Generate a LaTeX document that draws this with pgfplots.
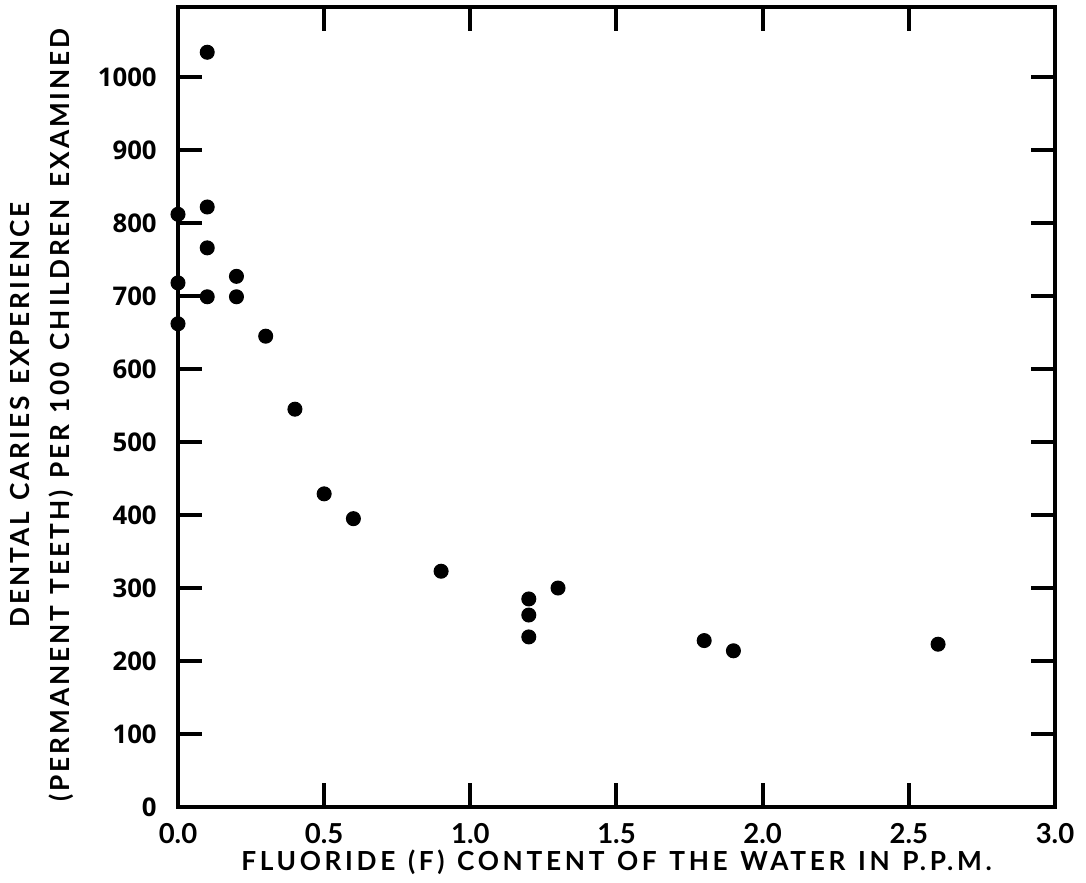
\documentclass[border=0pt]{standalone}
\usepackage{fontspec}
\setmainfont{Lato}
\newfontfamily\tickfont{Open Sans}
\newfontfamily\xlabfont{Lato}[LetterSpace=14,WordSpace=1.25]
\newfontfamily\ylabfont{Lato}[LetterSpace=11,WordSpace=1.25]
\usepackage{pgfplots}
\pgfplotsset{compat=1.18}

\begin{document}
\begin{tikzpicture}
\begin{axis}[
  width=350.8pt, height=320pt, scale only axis,
  xmin=0, xmax=3, ymin=0, ymax=1096,
  xtick={0,0.5,...,3}, ytick={0,100,...,1000},
  xticklabels={0.0,0.5,1.0,1.5,2.0,2.5,3.0},
  tick align=inside, major tick length=9.5pt,
  axis line style={line width=1.6pt},
  every tick/.style={black,line width=1.6pt},
  /pgf/number format/assume math mode=true,
  /pgf/number format/1000 sep={},
  yticklabel style={font=\tickfont\bfseries\fontsize{10.3}{12}\selectfont, xshift=-5pt},
  xticklabel style={font=\bfseries\fontsize{11}{12}\selectfont, yshift=-3pt},
  xlabel={FLUORIDE (F) CONTENT OF THE WATER IN P.P.M.},
  xlabel style={at={(axis description cs:0.5,-0.069)},anchor=center,
    font=\xlabfont\bfseries\fontsize{10.5}{12}\selectfont},
  ylabel={DENTAL CARIES EXPERIENCE\\(PERMANENT TEETH) PER 100 CHILDREN EXAMINED},
  ylabel style={at={(axis description cs:-0.155,0.49)},anchor=center,align=center,
    font=\ylabfont\bfseries\fontsize{10.5}{16}\selectfont},
]
\addplot[only marks, mark=*, mark size=2.8pt, black] coordinates {
  (0.1,1034) (0,812) (0.1,822) (0.1,766) (0,718) (0.2,727) (0.1,699)
  (0.2,699) (0,662) (0.3,645) (0.4,545) (0.5,429) (0.6,395) (0.9,323)
  (1.2,285) (1.2,263) (1.2,233) (1.3,300) (1.8,228) (1.9,214) (2.6,223)
};
\end{axis}
\pgfresetboundingbox
\path (-71.2pt,-30.4pt) rectangle (363.2pt,322.8pt);
\end{tikzpicture}
\end{document}
